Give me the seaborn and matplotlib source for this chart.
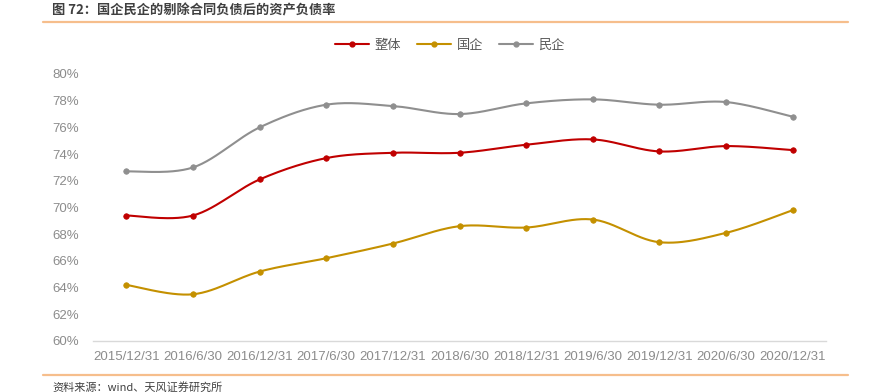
import numpy as np
import pandas as pd
import matplotlib
matplotlib.use("Agg")
import matplotlib.pyplot as plt
from matplotlib.lines import Line2D
import seaborn as sns

# 数据
dates = ["2015/12/31", "2016/6/30", "2016/12/31", "2017/6/30", "2017/12/31",
         "2018/6/30", "2018/12/31", "2019/6/30", "2019/12/31", "2020/6/30",
         "2020/12/31"]
total = [69.4, 69.4, 72.1, 73.7, 74.1, 74.1, 74.7, 75.1, 74.2, 74.6, 74.3]
soe = [64.2, 63.5, 65.2, 66.2, 67.3, 68.6, 68.5, 69.1, 67.4, 68.1, 69.8]
private = [72.7, 73.0, 76.0, 77.7, 77.6, 77.0, 77.8, 78.1, 77.7, 77.9, 76.8]

series_names = ["整体", "国企", "民企"]
colors = ["#C00000", "#C49000", "#8F8F8F"]

df = pd.DataFrame({"date": dates, "整体": total, "国企": soe, "民企": private})
df["pos"] = np.arange(len(dates))

sns.set_theme(style="white")
plt.rcParams["font.family"] = ["Noto Sans CJK SC", "DejaVu Sans"]
plt.rcParams["axes.unicode_minus"] = False


def smooth(xs, ys, n=30):
    # Excel 风格的平滑线（三次贝塞尔）
    xs = np.asarray(xs, float)
    ys = np.asarray(ys, float)
    px = np.concatenate([[xs[0]], xs, [xs[-1]]])
    py = np.concatenate([[ys[0]], ys, [ys[-1]]])
    out_x, out_y = [], []
    t = np.linspace(0, 1, n)
    for i in range(1, len(px) - 2):
        p0 = np.array([px[i], py[i]])
        p3 = np.array([px[i + 1], py[i + 1]])
        c1 = p0 + (np.array([px[i + 1], py[i + 1]]) - np.array([px[i - 1], py[i - 1]])) / 6
        c2 = p3 - (np.array([px[i + 2], py[i + 2]]) - np.array([px[i], py[i]])) / 6
        b = ((1 - t) ** 3)[:, None] * p0 + (3 * (1 - t) ** 2 * t)[:, None] * c1 \
            + (3 * (1 - t) * t ** 2)[:, None] * c2 + (t ** 3)[:, None] * p3
        out_x.extend(b[:, 0])
        out_y.extend(b[:, 1])
    return np.array(out_x), np.array(out_y)


fig = plt.figure(figsize=(8.72, 3.92), dpi=100)
ax = fig.add_axes([93 / 872, 1 - 341 / 392, 733 / 872, 267 / 392])

for name, c in zip(series_names, colors):
    sx, sy = smooth(df["pos"], df[name])
    ax.plot(sx, sy, color=c, lw=1.5, solid_capstyle="round", zorder=2)
    sns.scatterplot(x=df["pos"], y=df[name], ax=ax, color=c, s=16,
                    edgecolor=c, linewidth=0.5, zorder=3, legend=False)

ax.set_xlim(-0.5, len(dates) - 0.5)
ax.set_ylim(60, 80)
ax.set_yticks(np.arange(60, 81, 2))
ax.set_yticklabels([f"{v}%" for v in range(60, 81, 2)])
ax.set_xticks(df["pos"])
ax.set_xticklabels(dates)
ax.set_xlabel("")
ax.set_ylabel("")

tick_font = ["Liberation Sans Narrow", "Liberation Sans", "DejaVu Sans"]
for lab in ax.get_xticklabels() + ax.get_yticklabels():
    lab.set_family(tick_font)
    lab.set_fontsize(9.5)
    lab.set_color("#8C8C8C")
ax.tick_params(axis="both", length=0, pad=7)
ax.tick_params(axis="y", pad=10)

for s in ["top", "right", "left"]:
    ax.spines[s].set_visible(False)
ax.spines["bottom"].set_color("#D9D9D9")
ax.spines["bottom"].set_linewidth(1)

handles = [Line2D([0], [0], color=c, lw=1.5, marker="o", markersize=3.5)
           for c in colors]
leg = fig.legend(handles, series_names, loc="center", bbox_to_anchor=(450 / 872, 1 - 45 / 392),
                 ncol=3, frameon=False, fontsize=9.5, handlelength=2.6,
                 columnspacing=1.2, handletextpad=0.4)
for t in leg.get_texts():
    t.set_color("#595959")

# 标题与来源
fig.text(52 / 872, 1 - 10 / 392, "图 72：国企民企的剔除合同负债后的资产负债率",
         fontsize=9.5, fontweight="bold", color="#404040", va="center", ha="left")
fig.add_artist(Line2D([43 / 872, 848 / 872], [1 - 21.5 / 392, 1 - 21.5 / 392],
                      color="#F6BE8C", lw=1.6))
fig.add_artist(Line2D([43 / 872, 848 / 872], [1 - 374.5 / 392, 1 - 374.5 / 392],
                      color="#F6BE8C", lw=1.6))
fig.text(52 / 872, 1 - 387 / 392, "资料来源：wind、天风证券研究所",
         fontsize=8, color="#404040", va="center", ha="left")

fig.savefig("out.png", dpi=100)
